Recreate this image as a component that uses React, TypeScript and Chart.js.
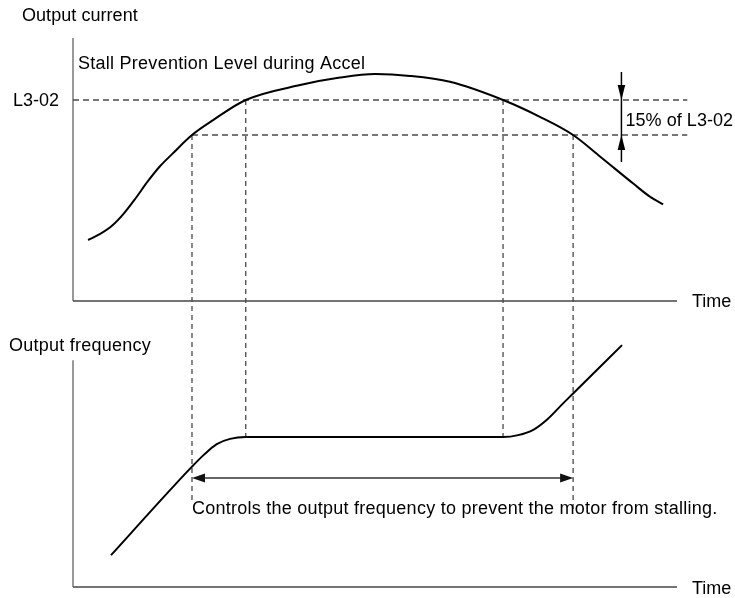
import React, { useEffect, useRef } from "react";
import { Chart, registerables } from "chart.js";

Chart.register(...registerables);

// ---- Data (time in % of the drawn time span) ----
const TIME_CURRENT = [2.5, 4.5, 6.5, 8.4, 10.4, 12.4, 14.4, 16.4, 19.7, 23.2, 28.6, 37.6, 44.2, 50.0, 55.8, 62.4, 71.2, 77.3, 82.8, 87.3, 92.7, 95.5, 97.7];
// Output current in % of L3-02
const CURRENT = [40.0, 42.6, 46.2, 51.3, 58.0, 65.2, 71.6, 76.8, 85.0, 91.4, 100, 106.4, 109.6, 111.1, 110.3, 107.8, 100, 92.8, 85.0, 75.7, 64.3, 58.6, 55.3];

const TIME_FREQ = [6.3, 16.1, 19.7, 21.7, 23.8, 26.0, 28.6, 71.2, 73.7, 76.2, 78.6, 81.1, 82.8, 90.9];
// Output frequency (Hz, schematic)
const FREQUENCY = [8.5, 25.9, 32.1, 35.3, 38.1, 39.5, 40.0, 40.0, 40.5, 41.9, 44.8, 48.9, 51.6, 64.5];

// Reference levels and events
const L3_02 = 100;
const STALL_LEVEL = 85; // L3-02 minus 15 %
const FREQ_HOLD = 40;
const EVENT_TIMES = [19.7, 28.6, 71.2, 82.8];
const CUR_AXIS_BASE = 13.9;
const FREQ_AXIS_TOP = 60.5;
const MARKER_TIME = 90.8;
const LEVEL_LINE_END = 101.7;
const MARKER_CUR_TOP = 112;
const MARKER_CUR_BOTTOM = 73.4;
const SPAN_ARROW_FREQ = 29.1;
const DROP_END_FREQ = [22.4, 19.7];

const TXT_CURRENT = "Output current";
const TXT_FREQ = "Output frequency";
const TXT_STALL = "Stall Prevention Level during Accel";
const TXT_L302 = "L3-02";
const TXT_PCT = "15% of L3-02";
const TXT_TIME = "Time";
const TXT_CONTROL = "Controls the output frequency to prevent the motor from stalling.";

const FONT = '18px "Liberation Sans", Arial, sans-serif';

function seg(ctx: CanvasRenderingContext2D, x1: number, y1: number, x2: number, y2: number) {
  ctx.beginPath();
  ctx.moveTo(x1, y1);
  ctx.lineTo(x2, y2);
  ctx.stroke();
}

function tri(ctx: CanvasRenderingContext2D, pts: number[][]) {
  ctx.beginPath();
  ctx.moveTo(pts[0][0], pts[0][1]);
  ctx.lineTo(pts[1][0], pts[1][1]);
  ctx.lineTo(pts[2][0], pts[2][1]);
  ctx.closePath();
  ctx.fill();
}

function text(ctx: any, s: string, x: number, y: number, spacing: number) {
  ctx.letterSpacing = spacing + "px";
  ctx.fillText(s, x, y);
  ctx.letterSpacing = "0px";
}

const overlay = {
  id: "overlay",
  beforeDatasetsDraw(chart: any) {
    const { ctx, chartArea: a, scales } = chart;
    const x = scales.x, yc = scales.yCur, yf = scales.yFreq;
    const x0 = x.getPixelForValue(0);
    const x100 = x.getPixelForValue(100);
    ctx.save();
    // axes
    ctx.lineWidth = 1.5;
    ctx.strokeStyle = "#777777";
    seg(ctx, x0, a.top, x0, yc.getPixelForValue(CUR_AXIS_BASE));
    seg(ctx, x0, yf.getPixelForValue(FREQ_AXIS_TOP), x0, yf.getPixelForValue(0));
    ctx.strokeStyle = "#444444";
    seg(ctx, x0, yc.getPixelForValue(CUR_AXIS_BASE), x100, yc.getPixelForValue(CUR_AXIS_BASE));
    seg(ctx, x0, yf.getPixelForValue(0), x100, yf.getPixelForValue(0));

    // dashed guide lines
    ctx.setLineDash([6, 4]);
    ctx.lineWidth = 1.3;
    ctx.strokeStyle = "#4a4a4a";
    const xe = x.getPixelForValue(LEVEL_LINE_END);
    seg(ctx, x0, yc.getPixelForValue(L3_02), xe, yc.getPixelForValue(L3_02));
    seg(ctx, x.getPixelForValue(EVENT_TIMES[0]), yc.getPixelForValue(STALL_LEVEL), xe, yc.getPixelForValue(STALL_LEVEL));
    ctx.setLineDash([5, 4]);
    seg(ctx, x.getPixelForValue(EVENT_TIMES[0]), yc.getPixelForValue(STALL_LEVEL), x.getPixelForValue(EVENT_TIMES[0]), yf.getPixelForValue(DROP_END_FREQ[0]));
    seg(ctx, x.getPixelForValue(EVENT_TIMES[3]), yc.getPixelForValue(STALL_LEVEL), x.getPixelForValue(EVENT_TIMES[3]), yf.getPixelForValue(DROP_END_FREQ[1]));
    seg(ctx, x.getPixelForValue(EVENT_TIMES[1]), yc.getPixelForValue(L3_02), x.getPixelForValue(EVENT_TIMES[1]), yf.getPixelForValue(FREQ_HOLD));
    seg(ctx, x.getPixelForValue(EVENT_TIMES[2]), yc.getPixelForValue(L3_02), x.getPixelForValue(EVENT_TIMES[2]), yf.getPixelForValue(FREQ_HOLD));
    ctx.setLineDash([]);
    ctx.restore();
  },
  afterDatasetsDraw(chart: any) {
    const { ctx, chartArea: a, scales } = chart;
    const x = scales.x, yc = scales.yCur, yf = scales.yFreq;
    const x0 = x.getPixelForValue(0);
    const x100 = x.getPixelForValue(100);
    ctx.save();

    // vertical 15% marker
    const xm = x.getPixelForValue(MARKER_TIME);
    const yL = yc.getPixelForValue(L3_02);
    const yS = yc.getPixelForValue(STALL_LEVEL);
    ctx.strokeStyle = "#000";
    ctx.fillStyle = "#000";
    ctx.lineWidth = 1.5;
    seg(ctx, xm, yc.getPixelForValue(MARKER_CUR_TOP), xm, yc.getPixelForValue(MARKER_CUR_BOTTOM));
    tri(ctx, [[xm, yL], [xm - 3.8, yL - 15], [xm + 3.8, yL - 15]]);
    tri(ctx, [[xm, yS], [xm - 3.8, yS + 15], [xm + 3.8, yS + 15]]);

    // horizontal span arrow
    const xa = x.getPixelForValue(EVENT_TIMES[0]);
    const xb = x.getPixelForValue(EVENT_TIMES[3]);
    const ya = yf.getPixelForValue(SPAN_ARROW_FREQ);
    ctx.strokeStyle = "#666";
    ctx.lineWidth = 2;
    seg(ctx, xa + 6, ya, xb - 6, ya);
    ctx.fillStyle = "#111";
    tri(ctx, [[xa, ya], [xa + 13, ya - 4.5], [xa + 13, ya + 4.5]]);
    tri(ctx, [[xb, ya], [xb - 13, ya - 4.5], [xb - 13, ya + 4.5]]);

    // texts
    ctx.fillStyle = "#000";
    ctx.font = FONT;
    ctx.textBaseline = "alphabetic";
    ctx.textAlign = "left";
    text(ctx, TXT_CURRENT, x0 - 51, a.top - 17, 0.05);
    text(ctx, TXT_STALL, x0 + 5, a.top + 31, 0.26);
    text(ctx, TXT_PCT, xm + 4, (yL + yS) / 2 + 9, 0.05);
    const yTopBase = yc.getPixelForValue(CUR_AXIS_BASE);
    const yBotBase = yf.getPixelForValue(0);
    text(ctx, TXT_TIME, x100 + 15, yTopBase + 6.5, 0);
    text(ctx, TXT_TIME, x100 + 15, yBotBase + 6.5, 0);
    text(ctx, TXT_FREQ, x0 - 64, yf.getPixelForValue(FREQ_AXIS_TOP) - 9, 0.25);
    text(ctx, TXT_CONTROL, xa, ya + 36, 0.25);
    ctx.textAlign = "right";
    text(ctx, TXT_L302, x0 - 14, yL + 6.5, 0);
    ctx.restore();
  },
};

export default function App() {
  const ref = useRef<HTMLCanvasElement>(null);
  useEffect(() => {
    if (!ref.current) return;
    const chart = new Chart(ref.current, {
      type: "line",
      data: {
        datasets: [
          {
            label: "Output current",
            data: TIME_CURRENT.map((t, i) => ({ x: t, y: CURRENT[i] })),
            yAxisID: "yCur",
            borderColor: "#000",
            borderWidth: 2,
            pointRadius: 0,
            cubicInterpolationMode: "monotone",
            fill: false,
          },
          {
            label: "Output frequency",
            data: TIME_FREQ.map((t, i) => ({ x: t, y: FREQUENCY[i] })),
            yAxisID: "yFreq",
            borderColor: "#000",
            borderWidth: 2,
            pointRadius: 0,
            cubicInterpolationMode: "monotone",
            fill: false,
          },
        ],
      },
      options: {
        animation: false,
        responsive: true,
        maintainAspectRatio: false,
        layout: { padding: { left: 73, right: 58, top: 38, bottom: 11 } },
        plugins: { legend: { display: false }, tooltip: { enabled: false } },
        events: [],
        scales: {
          x: { type: "linear", min: 0, max: 100, display: false },
          yCur: { type: "linear", min: -108.71, max: 126.57, display: false },
          yFreq: { type: "linear", min: 0, max: 146.4, display: false },
        },
      },
      plugins: [overlay],
    });
    return () => chart.destroy();
  }, []);
  return (
    <div style={{ position: "fixed", left: 0, top: 0, width: 735, height: 598, background: "#fff" }}>
      <canvas ref={ref} />
    </div>
  );
}
